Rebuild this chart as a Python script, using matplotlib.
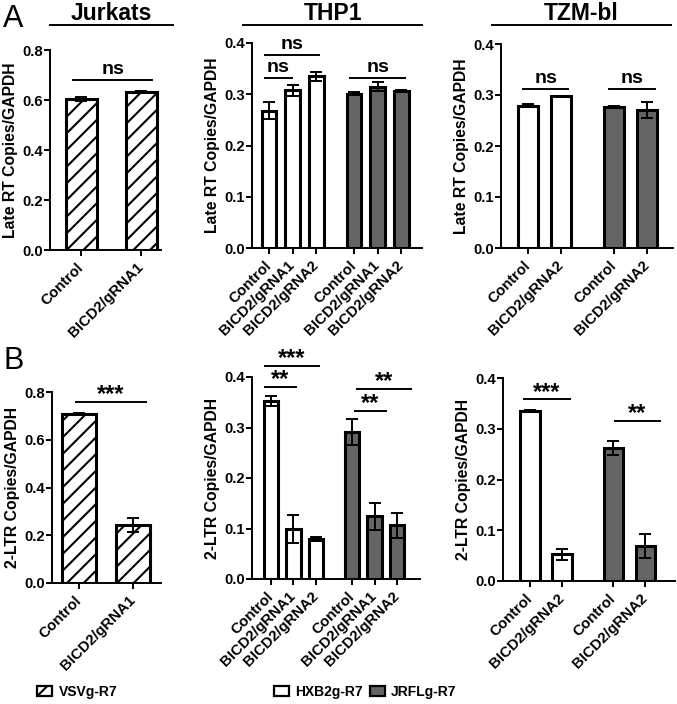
import numpy as np
import matplotlib
matplotlib.use('Agg')
import matplotlib.pyplot as plt
import matplotlib.transforms as mtrans
from matplotlib.patches import Patch

plt.rcParams['font.family'] = ['Liberation Sans', 'DejaVu Sans']
plt.rcParams['font.weight'] = 'bold'
plt.rcParams['axes.labelweight'] = 'bold'
plt.rcParams['hatch.linewidth'] = 1.5

W, H = 677, 704

# ---------------- datos ----------------
jur_cats = ['Control', 'BICD2/gRNA1']
thp_cats = ['Control', 'BICD2/gRNA1', 'BICD2/gRNA2']
tzm_cats = ['Control', 'BICD2/gRNA2']

# Late RT (panel A)
jur_lrt = [0.605, 0.633]
jur_lrt_err = [0.007, 0.003]
thp_lrt_hxb2 = [0.268, 0.308, 0.335]
thp_lrt_hxb2_err = [0.016, 0.011, 0.009]
thp_lrt_jrfl = [0.301, 0.315, 0.307]
thp_lrt_jrfl_err = [0.003, 0.009, 0.001]
tzm_lrt_hxb2 = [0.279, 0.298]
tzm_lrt_hxb2_err = [0.003, 0.001]
tzm_lrt_jrfl = [0.277, 0.271]
tzm_lrt_jrfl_err = [0.001, 0.016]

# 2-LTR (panel B)
jur_ltr = [0.708, 0.242]
jur_ltr_err = [0.004, 0.030]
thp_ltr_hxb2 = [0.352, 0.099, 0.080]
thp_ltr_hxb2_err = [0.010, 0.028, 0.004]
thp_ltr_jrfl = [0.291, 0.124, 0.106]
thp_ltr_jrfl_err = [0.025, 0.027, 0.025]
tzm_ltr_hxb2 = [0.335, 0.053]
tzm_ltr_hxb2_err = [0.002, 0.011]
tzm_ltr_jrfl = [0.262, 0.069]
tzm_ltr_jrfl_err = [0.014, 0.023]

# significancia: (x1, x2, y, texto)
sig_a_jur = [(-0.13, 1.18, 0.68, 'ns')]
sig_a_thp = [(-0.17, 0.97, 0.332, 'ns'), (-0.17, 2.12, 0.377, 'ns'), (3.45, 5.75, 0.332, 'ns')]
sig_a_tzm = [(-0.15, 1.21, 0.312, 'ns'), (2.45, 3.85, 0.312, 'ns')]
sig_b_jur = [(-0.06, 1.24, 0.76, '***')]
sig_b_thp = [(-0.27, 2.13, 0.422, '***'), (-0.27, 1.11, 0.381, '**'),
             (3.82, 6.22, 0.376, '**'), (3.73, 5.11, 0.333, '**')]
sig_b_tzm = [(-0.19, 1.25, 0.358, '***'), (2.66, 4.06, 0.316, '**')]

GRAY = '#646464'
HATCH = dict(color='white', hatch='//')
WHITE = dict(color='white')
DARK = dict(color=GRAY)

fig = plt.figure(figsize=(W / 100, H / 100), dpi=100)
shift = mtrans.ScaledTranslation(4 / 100, 0, fig.dpi_scale_trans)


def mkax(l, t, r, b):
    return fig.add_axes([l / W, 1 - b / H, (r - l) / W, (b - t) / H])


def panel(box, cats, groups, width, xlim, ymax, ystep, ylabel, sigs):
    ax = mkax(*box)
    n = len(cats)
    ticks, labels = [], []
    for g, (vals, errs, st) in enumerate(groups):
        x = np.arange(n) + g * (n + 0.6)
        ax.bar(x, vals, width, color=st['color'], hatch=st.get('hatch'),
               edgecolor='black', linewidth=2.2, zorder=2)
        ax.errorbar(x, vals, yerr=errs, fmt='none', ecolor='black',
                    elinewidth=1.4, capsize=4.5, capthick=1.4, zorder=3)
        ticks += list(x)
        labels += cats
    ax.set_xlim(*xlim)
    ax.set_ylim(0, ymax)
    ax.set_yticks(np.arange(0, ymax + 1e-9, ystep))
    ax.yaxis.set_major_formatter(matplotlib.ticker.FormatStrFormatter('%.1f'))
    ax.set_xticks(ticks)
    ax.set_xticklabels(labels, rotation=45, ha='right', va='center',
                       rotation_mode='anchor', fontsize=10.8, fontweight='bold')
    for t in ax.get_xticklabels():
        t.set_transform(t.get_transform() + shift)
    for t in ax.get_yticklabels():
        t.set_fontweight('bold')
    ax.tick_params(axis='y', labelsize=10.7, width=1.4, length=4, pad=1)
    ax.tick_params(axis='x', width=1.4, length=4, pad=7)
    for s in ['top', 'right']:
        ax.spines[s].set_visible(False)
    for s in ['left', 'bottom']:
        ax.spines[s].set_linewidth(1.4)
    ax.set_ylabel(ylabel, fontsize=11.3, fontweight='bold', labelpad=3)
    for x1, x2, y, txt in sigs:
        ax.plot([x1, x2], [y, y], color='black', lw=1.4, clip_on=False)
        if txt == 'ns':
            ax.annotate(txt, ((x1 + x2) / 2, y), xytext=(0, 1.5), textcoords='offset points',
                        ha='center', va='bottom', fontsize=14, fontweight='bold',
                        annotation_clip=False)
        else:
            ax.annotate(txt, ((x1 + x2) / 2, y), xytext=(0, 0.5), textcoords='offset points',
                        ha='center', va='baseline', fontsize=17, fontweight='bold',
                        annotation_clip=False)
    return ax


lrt = 'Late RT Copies/GAPDH'
ltr = '2-LTR Copies/GAPDH'

panel((50, 50, 161, 250), jur_cats, [(jur_lrt, jur_lrt_err, HATCH)], 0.52,
      (-0.52, 1.33), 0.8, 0.2, lrt, sig_a_jur)
panel((252, 43, 422, 248), thp_cats, [(thp_lrt_hxb2, thp_lrt_hxb2_err, WHITE),
                                      (thp_lrt_jrfl, thp_lrt_jrfl_err, DARK)], 0.62,
      (-0.72, 6.48), 0.4, 0.1, lrt, sig_a_thp)
panel((501, 44, 673, 248), tzm_cats, [(tzm_lrt_hxb2, tzm_lrt_hxb2_err, WHITE),
                                      (tzm_lrt_jrfl, tzm_lrt_jrfl_err, DARK)], 0.6,
      (-0.82, 4.39), 0.4, 0.1, lrt, sig_a_tzm)

panel((52, 392, 161, 583), jur_cats, [(jur_ltr, jur_ltr_err, HATCH)], 0.62,
      (-0.5, 1.52), 0.8, 0.2, ltr, sig_b_jur)
panel((252, 377, 420, 579), thp_cats, [(thp_ltr_hxb2, thp_ltr_hxb2_err, WHITE),
                                       (thp_ltr_jrfl, thp_ltr_jrfl_err, DARK)], 0.65,
      (-0.84, 6.62), 0.4, 0.1, ltr, sig_b_thp)
panel((503, 378, 675, 581), tzm_cats, [(tzm_ltr_hxb2, tzm_ltr_hxb2_err, WHITE),
                                       (tzm_ltr_jrfl, tzm_ltr_jrfl_err, DARK)], 0.6,
      (-0.84, 4.53), 0.4, 0.1, ltr, sig_b_tzm)

# titulos de columna con linea debajo
for name, x1, x2 in [('Jurkats', 50, 173), ('THP1', 243, 422), ('TZM-bl', 492, 671)]:
    fig.text((x1 + x2) / 2 / W, 1 - 20 / H, name, ha='center', va='baseline',
             fontsize=16.5, fontweight='bold')
    fig.add_artist(plt.Line2D([x1 / W, x2 / W], [1 - 25 / H, 1 - 25 / H], color='black', lw=1.4))

fig.text(3 / W, 1 - 27 / H, 'A', fontsize=22, fontweight='normal', va='baseline')
fig.text(3 / W, 1 - 369 / H, 'B', fontsize=22, fontweight='normal', va='baseline')

# leyendas
h1 = [Patch(facecolor='white', edgecolor='black', hatch='//', linewidth=1.6)]
fig.legend(h1, ['VSVg-R7'], loc='center left', bbox_to_anchor=(37 / W, 1 - 692 / H),
           frameon=False, prop={'size': 10, 'weight': 'bold'}, handlelength=1.1,
           handleheight=0.8, handletextpad=0.45, borderpad=0, borderaxespad=0)
h2 = [Patch(facecolor='white', edgecolor='black', linewidth=1.6),
      Patch(facecolor=GRAY, edgecolor='black', linewidth=1.6)]
fig.legend(h2, ['HXB2g-R7', 'JRFLg-R7'], loc='center left', bbox_to_anchor=(274 / W, 1 - 692 / H),
           frameon=False, prop={'size': 10, 'weight': 'bold'}, ncol=2, handlelength=1.05,
           handleheight=0.8, handletextpad=0.45, columnspacing=0.55, borderpad=0,
           borderaxespad=0)

fig.savefig('out.png', dpi=100)
